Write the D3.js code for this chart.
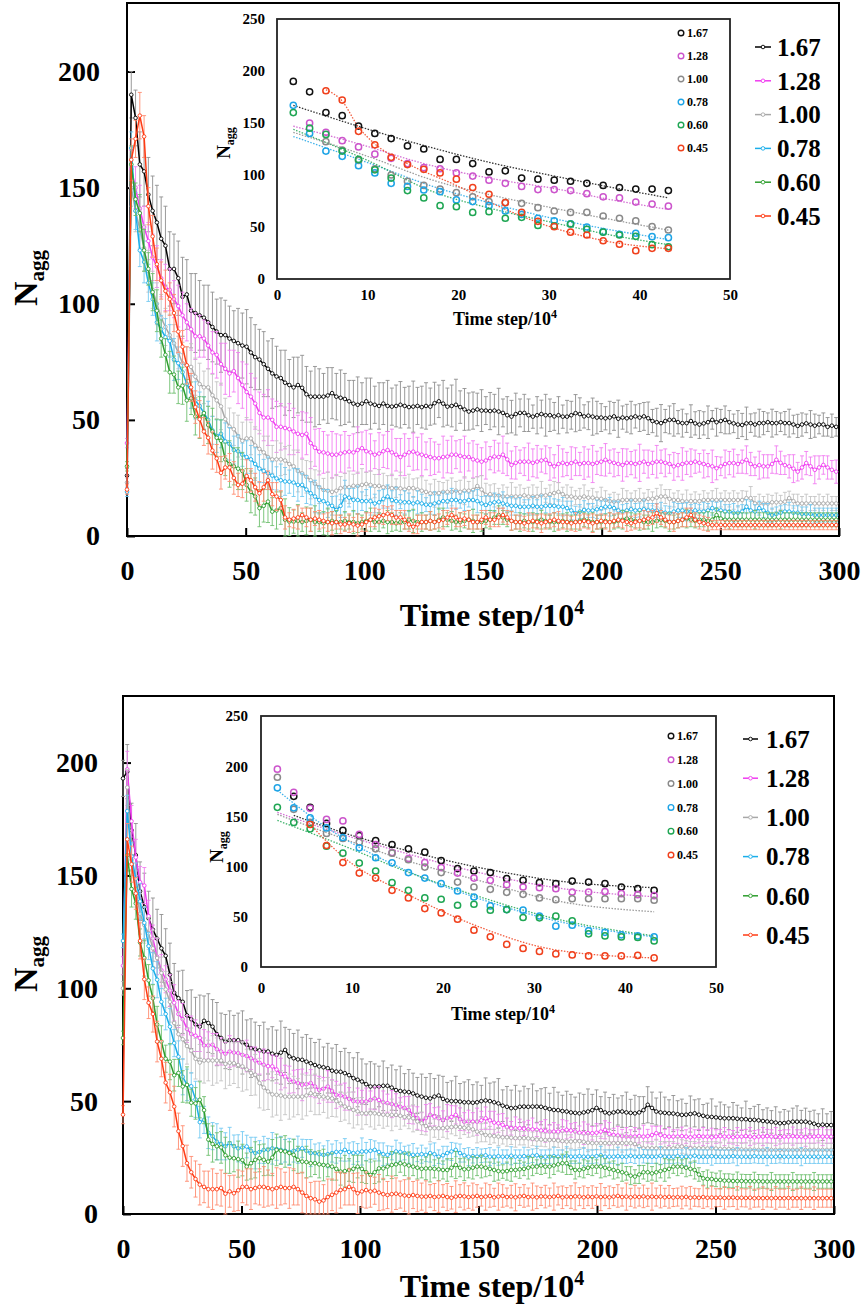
<!DOCTYPE html>
<html>
<head>
<meta charset="utf-8">
<script src="https://cdn.jsdelivr.net/npm/d3@7"></script>
<style>
  body { margin: 0; background: #fff; }
</style>
</head>
<body>
<svg id="chart" width="866" height="1311"></svg>
<script>
// series labels and tick values
const labels = ["1.67", "1.28", "1.00", "0.78", "0.60", "0.45"];
const xTicks = [0, 50, 100, 150, 200, 250, 300];
const yTicks = [0, 50, 100, 150, 200];
const insetXTicks = [0, 10, 20, 30, 40, 50];
const insetYTicks = [0, 50, 100, 150, 200, 250];
const stepX = 1.8;     // sampling interval of the runs (x 10^4 steps)
const yMax = 229.5;

// ---- top panel: N_agg per sample (x = i * 1.8) ----
const tBlack = [26,190,180,160,157,147,140,135,128,125,
115,115,111,103,104,97,96,95,94,92,
90,88,86.5,86.5,85,84,83,82,81.5,79,
77,76,74,72,70,68.7,68,66,65,64,
65,63.8,61,60,60,60,60,60.5,61.5,60,
59.5,59,58,57,56.5,57,58,57,56.5,56,
57,56,55.7,56,56.5,56,55.5,55.7,56,55.5,
56,55.7,57.2,58,57,55.7,56,56.5,55.5,54.5,
53.6,54,54.5,54,54,53.8,54,53.6,53,52,
51.4,52.5,53,53,52,51.4,52,52.5,52,52,
51.5,52,51.4,51.4,52,52.9,52.5,51.5,51.8,51.4,
51,51,50.7,51,51.5,50.5,51,50.7,51,51.5,
51,51.5,50.7,49.5,49,48.6,49.5,50,50,49,
48.6,48.6,49.5,48.5,48,48.5,49,50,49,49.5,
50,49,48.5,48,47.8,48.5,48.6,48,48.6,48.6,
49,48.6,48.6,49,48.6,48.6,48,47.4,48,48.5,
48,47.5,48,48,47,47.5,47];
const tBlackErr = [3,10,12,14,15,16,15,16,18,17,
16,15,16,17,15,16,17,15,14,16,
15,14,16,15,14,13,15,14,16,15,
14,13,14,12,15,13,12,14,11,13,
12,14,12,11,13,12,10,12,11,10,
12,11,9,10,12,9,10,11,8,10,
9,11,8,9,10,8,9,11,8,9,
10,8,9,7,10,8,9,11,7,9,
8,8,7,9,6,8,7,10,6,8,
7,9,6,8,7,5,8,6,9,7,
6,8,5,7,6,8,7,5,6,8,
7,6,5,7,6,8,5,6,7,5,
6,6,7,5,6,8,5,6,7,5,
6,4,7,5,6,5,7,4,6,5,
6,5,4,6,5,7,4,5,6,5,
4,6,5,4,5,6,4,5,5,4,
6,5,4,5,4,5,4];
const tMagenta = [40,158,150,141,133,127,120,116,111,107,
106,102,99,95,92,89,86,86,85,82,
79,78,74,72,70,71,68,65,62,60,
57,53,51,51,50,47,47,46.5,46,45,
44,43.5,44,40,38,36.3,36,35.5,35,35,
35.5,36,36.3,36,37,37.8,36.5,36,35,35.5,
36.5,37,36,35,34,35,36,36.3,35.5,35,
34.5,34,33.5,33.5,34,34.2,35,35,34.5,34,
34,33,32.5,32,32.5,33.5,34.2,34,35,33,
30.6,31.5,32,32,32,31.5,32,32.5,32.8,31,
30,31,31.5,31,31.4,32,31,31.4,31.4,31,
31.5,32,32.8,32,31.5,31,30.6,31.5,31.4,31,
31.5,32,31,31.5,32,32,31.5,31,30,30.5,
31,31.5,31.5,32,31.5,31,30.5,30,29.2,30,
31,31.4,31.4,31,32,32.8,31,30,30.5,30,
30,31,32.8,31.5,30.5,30,29,27.7,29.5,31.4,
30,28.5,29.5,30.6,29.5,28.5,27.7];
const tMagentaErr = [2,8,9,10,9,8,10,9,8,10,
9,8,9,10,8,9,10,9,8,10,
9,10,9,11,10,9,11,10,12,10,
11,9,10,12,9,11,10,9,11,10,
8,10,9,11,8,10,9,8,10,9,
8,9,7,8,10,7,9,8,6,9,
7,8,10,7,8,9,6,8,7,9,
6,8,7,6,9,7,8,6,7,9,
6,8,7,6,8,5,7,6,8,7,
6,7,5,6,8,6,7,5,6,7,
5,8,6,5,7,6,5,7,6,8,
5,6,7,5,6,5,7,6,5,6,
8,5,6,5,7,5,6,4,6,5,
7,5,6,5,4,6,5,7,5,4,
6,5,6,4,5,6,5,4,6,5,
5,4,6,5,4,5,6,4,5,5,
4,6,5,4,5,4,5];
const tGray = [23,150,140,132,124,114,106,100,94,90,
86.5,83,79,74.4,73.4,72.8,68.6,65.4,64,64,
60.6,58.4,55.8,50.3,47.1,46,43,41,42,42,
39,37.5,36,34,33,33,33,32.5,31,30,
28,27,25.5,24,22.5,21,19.8,19.5,19,19.5,
20.6,21,21,21.6,21.5,22,22.4,22,21.5,21.6,
21,21,20.6,20.6,20.5,20,20.6,20.6,20,19.5,
19,18.4,18.4,18.5,19,19,19,19.5,19,19.5,
19.5,19.8,21.5,20,17.7,18,17.5,17.5,17,17,
17,17,17,17.5,17,17,17,17.5,17.5,18,
18.5,19,18,17,17,16.5,16.5,17,16.5,16.5,
16,16,15.5,15,14.8,15,15.5,15.5,15.5,15.5,
15.5,15.5,16,16,16.5,17,17,16,15.5,15.5,
15,14.8,15,15,15,15.5,15.5,15.5,15.5,15.5,
15.5,15.5,15.5,15.5,15.5,16.3,16.3,14,14,14,
14,14.5,14.5,14.5,14.8,16.3,15,14,14,14,
14,14,14,14,14,14,14];
const tGrayErr = [2,8,9,8,10,9,8,9,10,8,
9,8,7,9,8,10,8,9,7,8,
9,8,10,9,8,7,9,8,9,7,
8,8,7,9,6,8,7,6,8,7,
9,6,7,8,6,7,5,8,6,7,
5,6,7,5,6,7,5,6,5,7,
6,5,6,4,7,5,6,4,5,6,
5,4,6,5,4,5,6,4,5,6,
4,5,4,6,5,4,5,3,5,4,
6,4,5,3,4,5,4,6,3,4,
5,4,3,5,4,3,4,5,3,4,
3,5,4,3,4,3,5,4,3,4,
5,3,4,3,4,5,3,4,3,4,
3,5,3,4,3,4,3,4,5,3,
4,3,4,3,4,3,5,3,4,3,
4,3,4,3,4,3,3,4,3,4,
3,3,4,3,4,3,3];
const tCyan = [19,167,140,123,118,109,102,92,89,85.6,
84,76,74.4,70.5,65.5,62,58.4,56,53,50,
45.5,43,44,40.7,39.7,37,36.5,35,34,33,
31,29,28,27,26,24.8,24,23.5,23.4,23,
22,22,20,18.4,17,15.5,15,14,13,11.2,
13,17,16.5,15.5,15.5,15,15,15,14,14.5,
16,17,15.5,15,14.8,14.5,14.5,14,14.5,14,
13.5,13.4,14,14.5,15,15,15.5,15.5,15,15,
15.5,15.5,15,14,13.4,14,14.5,14.8,14,13.5,
13,13,12.6,12.6,12.6,13,12.6,12.6,13,13,
13,12.6,12.6,12,11,9.8,10.5,11.2,11,11,
11.5,12,12.6,12.6,12,11,10.5,11,11.5,11,
11.2,11.5,11,11,11,10.5,10,9.8,10.5,11,
11,10.5,10.5,11,10.5,10.5,11,12,11.5,11,
10.5,10.5,10,10,10.5,12.6,11,10.5,12,11,
10,9,9.5,10,10.5,10.5,10,10,9.5,9.5,
9.5,9,9,9,9,9,9];
const tCyanErr = [2,7,8,7,9,8,7,8,6,8,
7,9,7,8,6,7,8,6,7,8,
6,7,6,8,7,6,7,5,7,6,
7,6,5,7,6,5,7,6,5,6,
7,5,6,5,7,6,5,6,4,6,
5,7,4,5,6,4,5,6,4,5,
4,5,4,6,3,5,4,3,5,4,
3,4,5,3,4,3,5,4,3,4,
3,4,5,3,4,3,4,3,5,3,
4,3,4,3,3,4,3,5,3,4,
3,3,4,3,4,3,3,4,3,3,
4,3,3,4,3,4,3,3,4,3,
3,4,3,3,3,4,3,3,4,3,
3,4,3,3,3,4,3,3,3,4,
3,3,4,3,3,3,4,3,3,3,
4,3,3,3,3,4,3,3,3,3,
4,3,3,3,3,3,3];
const tGreen = [30,160,145,139,123,115,105,97,85,78,
70.5,69.5,64,64.7,58.4,59.3,51.5,51,52.9,47.8,
45,42.3,41,33,31,30,29,28,22,19,
17,12,13,14.8,10.5,11,12,7,6.2,6.2,
6.5,6,6.5,7,6,6,5.5,6,6.5,6,
6,6.5,6,6,5.5,6,6.5,7,6,6,
6.5,6,6,5.5,6,6,7,6.5,6,6,
6,6.5,6,7,8,7,6.5,6,6,6.5,
7,6.5,6,6,6.5,7,8,9,8,7,
6.5,6,6,6.5,6,6,6.5,7,6.5,6,
6,6,6.5,6,6,6,6.5,7,6.5,6,
6,6,6.5,6,6,6.5,7,7.5,7,6.5,
6.5,6,6,6,6.5,7,6.5,6,6,6.5,
7,7.5,7,6.5,7,7,6.5,7,9,7.5,
7,7,7,7,7,7,7,7,7,7,
7,7,7,7,7,7,7,7,7,7,
7,7,7,7,7,7,7];
const tGreenErr = [2,8,7,8,9,7,8,9,8,7,
9,8,7,8,9,7,8,9,7,8,
10,8,9,7,10,8,9,8,7,9,
8,8,7,9,6,8,7,9,6,5,
7,4,6,5,7,4,5,6,4,5,
3,4,3,5,4,3,4,5,3,4,
3,5,4,3,4,3,4,5,3,4,
3,4,3,5,4,3,4,3,4,3,
4,5,3,4,3,4,3,4,3,3,
4,3,4,3,3,4,3,4,3,3,
4,3,3,4,3,3,4,3,3,4,
3,3,3,4,3,3,4,3,3,3,
4,3,3,4,3,3,3,4,3,3,
3,4,3,3,3,3,4,3,3,3,
3,4,3,3,3,3,3,4,3,3,
3,3,3,4,3,3,3,3,3,3,
3,3,3,3,3,3,3];
const tRed = [20,162,171,181,172,142,129,117,110,105.5,
102,96,88,81.5,73.5,64,55.5,50.3,45,42.3,
36.8,33.4,27.2,29.5,29.5,25,22,22.5,25.8,24,
21,18.4,21,24,18,17,15.5,8,7,7.5,
8,9,8,7,7.5,7,6.5,6,5.5,6,
5,5,5.5,5,4.5,5,6,7,8,8.5,
9,9.6,9,8,8,7,5,4,5,6,
6,6.5,6,6.5,7,8,9,8,7,7.5,
7,6,6,7,8,7,7,8,9,8,
6.5,6,6,5.5,6,6.5,6,5.5,6,6.5,
7,6.5,6,6,5.5,6,6,6.5,6,5.5,
6,6.5,6,6,6.5,7,6.5,6,5.5,6,
6.5,7,7.5,8,9.8,8,7,6,6,6.5,
7,8,9,7,6,5.5,5,4.7,4.7,4.7,
4.7,4.7,4.7,4.7,4.7,4.7,4.7,4.7,4.7,4.7,
4.7,4.7,4.7,4.7,4.7,4.7,4.7,4.7,4.7,4.7,
4.7,4.7,4.7,4.7,4.7,4.7,4.7];
const tRedErr = [2,9,8,10,9,8,9,7,8,9,
7,8,9,7,8,6,7,8,6,7,
8,6,7,5,6,7,5,6,7,5,
6,5,6,4,5,6,4,5,3,4,
5,3,4,5,3,4,3,4,5,3,
4,3,4,3,5,3,4,3,4,3,
4,3,4,3,3,4,3,3,4,3,
3,4,3,3,4,3,3,4,3,3,
4,3,3,4,3,3,3,4,3,3,
4,3,3,3,4,3,3,4,3,3,
3,4,3,3,3,4,3,3,3,4,
3,3,3,4,3,3,3,4,3,3,
3,4,3,3,4,3,3,3,4,3,
3,4,3,3,3,3,3,2,2,2,
2,2,2,2,2,2,2,2,2,2,
2,2,2,2,2,2,2,2,2,2,
2,2,2,2,2,2,2];
// first sample shown in the top inset, per series
const topInsetStart = [1, 2, 3, 1, 1, 3];
// dotted fit curves of the top inset: [time, N_agg]
const tFitBlack = [[1.8,167],[10.8,142],[17.2,126],[24,111],[30.6,99],[37,88],[43.2,78]];
const tFitMagenta = [[1.8,147],[9,130],[16.2,111],[23.4,97],[30.6,87],[37,76],[43.2,67]];
const tFitGray = [[1.8,141],[10,118],[17.2,95],[24,80],[30.6,68],[37,57],[43.2,47]];
const tFitCyan = [[1.8,137],[10,112],[17.2,89],[24,72],[30.6,58],[37,47],[43.2,38]];
const tFitGreen = [[1.8,144],[10,114],[17.2,84],[24,67],[30.6,54],[37,42],[43.2,33]];
const tFitRed = [[5.4,182],[7.2,171],[9,146],[10.8,130],[14.4,111],[19.8,90],[25.2,67],[30.6,49],[36,37],[43.2,29]];

// ---- bottom panel ----
const bBlack = [193,196,170,159,143,136,131,126,122,117.7,
114.4,106,98,95.6,94,88,86.3,84,83,85.6,
84.6,83,79.7,78,76.4,77,77,77,76,75,
73.5,73,72.5,72,72,71,70.5,71.5,72.7,69.8,
69,68.5,68.3,67.5,66.8,66,65.4,65,64.6,63.5,
63.1,63,62.4,61.5,60.2,59.5,58.7,57.5,56.5,56.5,
56.5,56.8,56.8,56,54.9,54.5,54.2,54,53.4,52.5,
52,51.5,51.2,52,52.5,51,50.3,50,50,49.8,
49.5,49.5,49.3,49.5,50,50.3,50,49.5,49,48,
47.5,46.9,47,47.5,47.6,47.5,47.6,47.6,47.5,47,
46.5,46.1,46,45.6,45.4,45,44.8,44.6,45,45.4,
46,47,46,45,44.6,45,45.4,45.4,45,44.8,
44.6,45,46,48.4,47,45.4,45,44.8,44.6,44.5,
44.2,43.9,44,44.3,44.6,44,43.5,43.1,43,42.8,
42.6,42.4,42.4,42.4,42.2,42,42,41.7,41.7,41.5,
41.2,41,40.8,40.5,40.2,40.3,40.6,40.9,40.9,40.9,
40.9,40.5,40,39.4,39.6,39.4,39.4];
const bBlackErr = [8,12,12,14,13,15,12,14,13,15,
12,14,13,12,14,11,13,12,14,11,
13,12,14,11,12,13,11,12,14,11,
13,12,11,13,10,12,11,14,10,12,
11,13,10,12,11,10,12,9,11,10,
12,9,11,10,9,12,10,9,11,10,
9,11,8,10,9,11,8,10,9,8,
10,9,11,8,9,10,8,9,11,8,
9,10,8,9,7,10,8,9,11,7,
9,8,10,7,9,8,10,7,8,9,
7,10,8,7,9,8,7,9,8,10,
7,8,6,9,7,8,6,7,9,6,
8,7,6,8,7,6,9,7,6,8,
6,7,5,8,6,7,5,6,8,5,
7,6,5,7,6,5,8,5,6,7,
5,6,5,7,5,6,5,6,7,5,
6,5,6,5,7,5,6];
const bMagenta = [110,197,174,158,147,145.5,132,122,114,108,
104,99,93.6,88.6,86.3,82,79.7,79,78,74.7,
74.7,75,73,72,71,72,71.5,71.3,70.5,70,
69,68,67,66.1,65.5,65.4,64,62,60.9,59.5,
58.7,58,57.2,57.5,58,56.5,55,55.5,56.5,54.5,
52.8,52.5,52,51,50,49.8,49.8,49.8,50.5,51.2,
50.5,49.5,49.1,48.7,48.3,47.5,47,46.1,43.9,42.5,
40.9,42.5,43.9,43.1,42.4,41.7,42.5,43,43.9,42,
40.9,41,40.9,40.9,41.5,42.4,41.5,40.5,40.2,39.5,
38.5,38,38,38,37.8,37.5,37.5,37.3,37,36.8,
36.5,36.5,36.5,36.8,37.3,37,36.5,36,35.8,35.8,
35.8,36,36.5,37.3,35.5,35,34.8,34.5,34.3,34.3,
34.3,34.5,34.3,34.5,35,35.8,35,34.5,34.3,34.3,
34.3,34.5,34.3,34,34.3,34.5,34.3,34.3,34,34.3,
34.5,34.3,34.3,34,34.3,34.3,34.5,34.3,34,34.3,
34.3,34.5,34.3,34.3,34,34.3,34.3,34.5,34.3,34.3,
34,34.3,34.3,34.5,34.3,34.3,34.3];
const bMagentaErr = [4,8,7,8,7,8,7,6,8,7,
6,7,8,6,7,6,8,7,6,7,
6,5,7,6,5,7,6,5,6,7,
5,6,5,7,6,5,6,7,5,6,
5,6,7,5,6,5,6,5,7,5,
6,5,6,5,4,6,5,6,4,5,
6,5,4,6,5,4,5,6,4,5,
4,6,5,4,5,4,6,5,4,5,
4,5,4,6,4,5,4,5,4,5,
4,3,5,4,3,4,5,3,4,5,
3,4,3,5,4,3,4,3,5,4,
3,4,3,4,5,3,4,3,4,3,
4,3,5,3,4,3,4,3,4,3,
3,4,3,4,3,3,4,3,4,3,
3,4,3,3,4,3,3,4,3,3,
4,3,3,4,3,3,3,4,3,3,
4,3,3,3,4,3,3];
const bGray = [100,189,157,144,133,128,124.3,117.7,113.4,106.8,
99.5,94,84.6,79.7,77.4,74.4,72.4,68.8,67.1,68,
68,68,68,68,66.5,67,66.8,66,65.4,64,
62.5,61.7,58,56,54.3,53,52.8,52.5,52,52,
52,52,52,52.5,53.5,53,52,52,51.5,51.2,
50,49,47.6,47,46.1,45.5,44.6,44.6,44.6,44.6,
44.3,44,43.9,43.9,43.9,43.5,43,42.8,42.4,41,
40.2,39,38,38,38,38,38.3,38.5,38.7,38.5,
38.2,38,37.5,36.5,36,35,34.8,34.5,34.3,34,
34,33.8,33.6,33.6,33.6,33.5,33.3,33,33,32.8,
32.8,32.8,32.5,32.3,32.1,32.1,32.3,32.3,32,31.6,
31.4,31.4,31.4,31.4,31.4,31.4,31.4,31.4,31.4,31.4,
31,30,29.1,29.1,29.1,29.1,29.1,29.1,29.1,29.1,
29.9,29.9,29.5,29.1,29.1,29.1,29.1,29,29,29,
28.8,28.8,28.8,28.6,28.6,28.6,28.5,28.5,28.5,28.4,
28.4,28.4,28.4,28.4,28.4,28.4,28.4,28.4,28.4,28.4,
28.4,28.4,28.4,28.4,28.4,28.4,28.4];
const bGrayErr = [3,8,7,8,9,8,7,8,9,7,
8,9,8,10,9,8,10,9,8,10,
9,11,10,9,11,10,9,10,11,9,
10,9,11,10,8,10,9,11,8,10,
9,8,10,9,8,9,8,7,9,8,
7,8,6,7,8,6,7,5,6,7,
5,6,5,7,5,6,4,5,6,4,
5,4,6,4,5,4,5,3,4,5,
3,4,3,5,4,3,4,3,4,3,
4,3,4,3,3,4,3,4,3,3,
4,3,3,4,3,3,4,3,3,4,
3,3,3,4,3,3,3,4,3,3,
3,4,3,3,3,4,3,3,3,3,
4,3,3,3,3,4,3,3,3,3,
3,4,3,3,3,3,3,4,3,3,
3,3,3,3,4,3,3,3,3,3,
3,3,3,4,3,3,3];
const bCyan = [121,178.5,158.5,148.5,138.5,129,118.7,108.8,103.8,94,
88.6,83,75.7,69.7,60.8,57.2,56.6,50.8,40.7,41.7,
36,34.5,32,31,30,31.4,30,29.1,29.5,29.9,
28,27,27.5,28.4,28.5,29.1,28.8,28.4,28,27.5,
28,28.5,29.1,28,27,27,26.5,26.2,26.5,27,
27.5,27.5,28.4,27.5,27,27.2,27.7,27.7,28,28.4,
27.5,26.5,26.2,27,27.7,27.5,27,26.5,26.2,26.2,
26.5,26.2,27,26.5,25.4,26,27,27.7,28.4,27,
26,25.4,25.6,25.4,25.8,26,25.4,25.4,25.6,25.4,
25.4,25.8,25.4,25.4,25.6,25.4,25.8,26,25.4,25.4,
25.4,25.6,25.4,25.4,25.8,25.4,25.4,25.6,25.4,25.4,
25.4,25.6,26,25.4,25.4,25.4,25.6,25.4,25.4,25.8,
25.4,25.4,25.6,25.4,25.4,25.4,25.8,25.4,25.4,25.4,
25.6,25.4,25.4,25.4,25.8,25.4,25.4,25.4,25.6,25.4,
25.4,25.4,25.4,25.6,25.4,25.4,25.4,25.4,25.6,25.4,
25.4,25.4,25.4,25.4,25.6,25.4,25.4,25.4,25.4,25.4,
25.4,25.4,25.4,25.4,25.4,25.4,25.4];
const bCyanErr = [3,7,6,7,8,7,6,7,8,6,
7,8,6,7,8,7,6,8,7,6,
7,6,8,7,6,7,5,6,7,5,
6,7,5,6,5,7,5,6,5,6,
5,6,4,5,6,4,5,4,6,4,
5,4,5,4,5,4,6,4,5,4,
4,5,4,3,5,4,3,4,5,3,
4,3,4,5,3,4,3,4,3,4,
3,4,3,4,3,3,4,3,4,3,
3,4,3,3,4,3,3,4,3,3,
3,4,3,3,4,3,3,3,4,3,
3,3,4,3,3,3,4,3,3,3,
3,4,3,3,3,3,4,3,3,3,
3,3,4,3,3,3,3,3,4,3,
3,3,3,3,4,3,3,3,3,3,
3,4,3,3,3,3,3,3,3,4,
3,3,3,3,3,3,3];
const bGreen = [78,159,144,137.6,120.3,113.4,103.5,95.6,84,76.4,
68.8,67.5,61.5,62.5,56.5,57.2,49.3,49,50.6,46,
33,31,30,29.5,26,25,24.7,24.3,23.9,21,
22.5,24,24.7,24,23.2,25,28.4,28,27.7,27,
26.2,24,23.2,23,22.5,22.5,22,21.7,21.5,21,
20,18.8,19,19.5,20,21,20,18.5,17.3,18.5,
20.2,20.2,21,21.7,22,22.5,22,21.5,21,20.5,
20,20.2,20.2,20,19.8,19.5,19.5,20.5,21.7,20.5,
19.8,20,20.5,21,21,20.5,20,19.5,19,18.8,
19,19.5,19.5,19.8,20,20.5,21,21,21.5,21,
21,21.5,22,22.5,22.5,20.5,19.5,19.5,20,20.5,
21,21,21,20.5,20,19.5,19,18.5,18,17,
16.6,17.5,18.5,18.5,18,18.5,19,19.5,20,21,
21,21,20.5,20,19.5,17.5,15.8,15.5,15.5,15.1,
15.1,14.8,14.8,14.6,14.6,14.6,14.5,14.5,14.5,14.5,
14.4,14.4,14.4,14.4,14.4,14.4,14.4,14.4,14.4,14.4,
14.4,14.4,14.4,14.4,14.4,14.4,14.4];
const bGreenErr = [3,7,8,7,6,8,7,6,8,7,
6,8,7,6,7,8,6,7,8,6,
7,8,6,7,8,7,6,8,7,6,
7,8,6,7,6,8,7,6,7,5,
7,6,5,7,6,5,6,7,5,6,
5,6,7,5,6,5,6,5,7,5,
6,5,4,6,5,4,5,6,4,5,
4,5,6,4,5,4,5,4,6,4,
5,4,5,4,5,4,3,5,4,3,
4,5,3,4,3,5,4,3,4,3,
5,4,3,4,5,3,4,3,4,3,
4,3,5,4,3,4,3,4,3,4,
3,4,3,4,3,4,3,5,4,3,
4,3,4,3,4,3,3,4,3,3,
4,3,3,3,4,3,3,3,4,3,
3,3,4,3,3,3,3,4,3,3,
3,3,4,3,3,3,3];
const bRed = [44,166,155,142,121,104,93.6,88.6,76.4,68.8,
58.2,53.9,47.6,36.7,30.1,22.5,18.5,15.5,13,12,
11,11,11,11.5,9,10,9.2,10.5,12,12,
11,11.5,12,12,11.5,11,11.5,12,11.5,11.5,
12,11,9.5,8,7,6.5,5.5,6,7.5,8.5,
9.5,10.6,11,12,11,9.2,10,10.6,10,10.3,
9.5,8.8,8.4,8.8,9,8.6,8.2,8,8.4,8,
7.7,7.7,8,7.5,7.7,8,7.5,7.2,7.7,8,
7.8,7.5,7.7,8,7.5,7.7,8,7.4,7.7,8,
7.5,7.7,7.4,7.8,8,7.5,7.7,7.4,7.8,7.7,
7.5,7.7,8,7.4,7.7,7.5,7.8,7.7,7.4,7.7,
7.5,7.8,7.5,7.7,7.4,7.7,8,7.5,7.7,7.4,
7.7,7.5,7.8,7.4,7.7,7.5,7.7,7.4,7.6,7.3,
7.5,7.3,7.6,7.2,7.4,7.2,7.5,7.2,7.3,7.2,
7.3,7.1,7.2,7.3,7.1,7.2,7.1,7.2,7,7.1,
7,7.1,7,7.1,7,7,7.1,7,7,7,
7,7,7,7,7,7,7];
const bRedErr = [4,7,8,7,8,9,7,8,9,8,
9,8,9,8,9,8,7,8,9,7,
8,9,7,8,9,7,8,9,7,8,
9,7,8,9,8,7,9,8,7,9,
8,7,9,8,7,8,9,7,8,7,
9,8,7,8,7,9,7,8,7,6,
8,7,6,8,7,6,7,8,6,7,
6,7,5,6,7,5,6,5,7,5,
6,5,6,5,4,6,5,4,6,5,
4,5,6,4,5,4,6,5,4,5,
4,6,4,5,4,5,6,4,5,4,
5,4,6,4,5,4,5,4,6,4,
5,4,5,4,6,4,5,4,5,4,
4,5,4,5,4,4,5,4,5,4,
4,5,4,4,5,4,4,5,4,4,
5,4,4,5,4,4,5,4,4,5,
4,4,5,4,4,4,4];
const bottomInsetStart = [2, 1, 1, 1, 1, 3];
const bFitBlack = [[3.6,151],[10,131],[16,116],[24,99],[32.4,86],[43.2,79]];
const bFitMagenta = [[1.8,154],[9,132],[16,113],[24,94],[32.4,79],[43.2,70]];
const bFitGray = [[1.8,152],[9,128],[16,106],[24,86],[32.4,66],[43.2,55]];
const bFitCyan = [[1.8,176],[7.2,139],[16,96],[24,68],[32.4,46],[43.2,30]];
const bFitGreen = [[1.8,146],[9,121],[16,95],[24,70],[32.4,48],[43.2,31]];
const bFitRed = [[5.4,142],[9,110],[16,73],[23.4,42],[32.4,17],[43.2,9]];

// colours
const mainColors = ["#000000", "#f03cf0", "#a8a8a8", "#1aaeea", "#2e9e2e", "#ff3b14"];
const errColors = ["#8e8e8e", "#f27ef2", "#c4c4c4", "#74caf2", "#6fbf6f", "#ff8c70"];
const insetColors = ["#111111", "#cc55cc", "#8a8a8a", "#1ea4e6", "#1fa653", "#f0401c"];
const serif = "'Liberation Serif','Times New Roman',Times,serif";

const svg = d3.select("#chart");
svg.append("rect").attr("width", 866).attr("height", 1311).attr("fill", "#fff");

function styleAxis(a, size) {
  a.attr("font-family", serif).attr("font-size", size).attr("font-weight", "bold");
  a.select(".domain").remove();
  a.selectAll(".tick line").attr("stroke", "#000").attr("stroke-width", 2);
  a.selectAll(".tick text").attr("fill", "#000");
}

function drawPanel(p) {
  const g = svg.append("g");
  const x = d3.scaleLinear().domain([0, 300]).range([p.left, p.right]);
  const y = d3.scaleLinear().domain([0, yMax]).range([p.bottom, p.top]);

  g.append("g").attr("transform", `translate(0,${p.bottom})`)
    .call(d3.axisBottom(x).tickValues(xTicks).tickSize(-8).tickSizeOuter(0).tickPadding(24))
    .call(a => styleAxis(a, 28));
  g.append("g").attr("transform", `translate(${p.left},0)`)
    .call(d3.axisLeft(y).tickValues(yTicks).tickSize(-8).tickSizeOuter(0).tickPadding(p.yPad))
    .call(a => styleAxis(a, 28));

  g.append("rect")
    .attr("x", p.left).attr("y", p.top)
    .attr("width", p.right - p.left).attr("height", p.bottom - p.top)
    .attr("fill", "none").attr("stroke", "#000").attr("stroke-width", 2);

  // main series with error bars
  const line = d3.line().x(d => x(d.t)).y(d => y(d.v));
  p.series.forEach((vals, k) => {
    const pts = vals.map((v, i) => ({ t: i * stepX, v: v, e: p.errors[k][i] || 0 }));
    const sg = g.append("g");
    sg.append("g").selectAll("path").data(pts).join("path")
      .attr("d", d => {
        const cx = x(d.t);
        const y1 = y(Math.min(yMax, d.v + d.e));
        const y2 = y(Math.max(0, d.v - d.e));
        return `M${cx},${y1}V${y2}M${cx - 2},${y1}h4M${cx - 2},${y2}h4`;
      })
      .attr("fill", "none").attr("stroke", errColors[k]).attr("stroke-width", 0.9);
    sg.append("path").datum(pts).attr("d", line)
      .attr("fill", "none").attr("stroke", mainColors[k]).attr("stroke-width", 1.5);
    sg.append("g").selectAll("circle").data(pts).join("circle")
      .attr("cx", d => x(d.t)).attr("cy", d => y(d.v)).attr("r", 1.8)
      .attr("fill", "#fff").attr("stroke", mainColors[k]).attr("stroke-width", 0.9);
  });

  // legend
  labels.forEach((lab, k) => {
    const ly = p.legY0 + k * p.legDy;
    g.append("line").attr("x1", p.legX1).attr("x2", p.legX2).attr("y1", ly).attr("y2", ly)
      .attr("stroke", mainColors[k]).attr("stroke-width", 1.5);
    g.append("circle").attr("cx", (p.legX1 + p.legX2) / 2).attr("cy", ly).attr("r", 1.8)
      .attr("fill", "#fff").attr("stroke", mainColors[k]).attr("stroke-width", 0.9);
    g.append("text").attr("x", p.legTextX).attr("y", ly).attr("dy", "0.35em")
      .attr("font-family", serif).attr("font-weight", "bold").attr("font-size", 25)
      .text(lab);
  });

  // axis titles
  const xt = g.append("text").attr("x", p.xtX).attr("y", p.xtY).attr("text-anchor", "middle")
    .attr("font-family", serif).attr("font-weight", "bold").attr("font-size", 32);
  xt.append("tspan").text("Time step/10");
  xt.append("tspan").attr("font-size", 20).attr("dy", -12).text("4");

  const yt = g.append("text").attr("transform", `translate(${p.ytX},${p.ytY}) rotate(-90)`)
    .attr("text-anchor", "middle").attr("font-family", serif).attr("font-weight", "bold");
  yt.append("tspan").attr("font-size", 34).text("N");
  yt.append("tspan").attr("font-size", 21).attr("dy", 7).text("agg");

  // ---- inset ----
  const xi = d3.scaleLinear().domain([0, 50]).range([p.inL, p.inR]);
  const yi = d3.scaleLinear().domain([0, 250]).range([p.inB, p.inT]);
  g.append("rect")
    .attr("x", p.inL).attr("y", p.inT)
    .attr("width", p.inR - p.inL).attr("height", p.inB - p.inT)
    .attr("fill", "#fff").attr("stroke", "#222").attr("stroke-width", 1.8);
  g.append("g").attr("transform", `translate(0,${p.inB})`)
    .call(d3.axisBottom(xi).tickValues(insetXTicks).tickSize(0).tickPadding(p.inXPad))
    .call(a => styleAxis(a, 15));
  g.append("g").attr("transform", `translate(${p.inL},0)`)
    .call(d3.axisLeft(yi).tickValues(insetYTicks).tickSize(0).tickPadding(p.inYPad))
    .call(a => styleAxis(a, 15));

  const fitLine = d3.line().curve(d3.curveMonotoneX).x(d => xi(d[0])).y(d => yi(d[1]));
  p.fits.forEach((f, k) => {
    g.append("path").datum(f).attr("d", fitLine)
      .attr("fill", "none").attr("stroke", insetColors[k]).attr("stroke-opacity", 0.85)
      .attr("stroke-width", 1.3).attr("stroke-dasharray", "1.5,1.5");
  });
  p.series.forEach((vals, k) => {
    const pts = [];
    for (let i = p.insetStart[k]; i <= 24; i++) pts.push({ t: i * stepX, v: vals[i] });
    g.append("g").selectAll("circle").data(pts).join("circle")
      .attr("cx", d => xi(d.t)).attr("cy", d => yi(d.v)).attr("r", 3.1)
      .attr("fill", "none").attr("stroke", insetColors[k]).attr("stroke-width", 1.5);
  });

  labels.forEach((lab, k) => {
    const ly = p.inLegY0 + k * p.inLegDy;
    g.append("circle").attr("cx", p.inLegX).attr("cy", ly).attr("r", 2.8)
      .attr("fill", "none").attr("stroke", insetColors[k]).attr("stroke-width", 1.4);
    g.append("text").attr("x", p.inLegX + 6).attr("y", ly).attr("dy", "0.35em")
      .attr("font-family", serif).attr("font-weight", "bold").attr("font-size", 12)
      .text(lab);
  });

  const ixt = g.append("text").attr("x", p.inXtX).attr("y", p.inXtY).attr("text-anchor", "middle")
    .attr("font-family", serif).attr("font-weight", "bold").attr("font-size", 18);
  ixt.append("tspan").text("Time step/10");
  ixt.append("tspan").attr("font-size", 12).attr("dy", -7).text("4");

  const iyt = g.append("text").attr("transform", `translate(${p.inYtX},${p.inYtY}) rotate(-90)`)
    .attr("text-anchor", "middle").attr("font-family", serif).attr("font-weight", "bold");
  iyt.append("tspan").attr("font-size", 19).text("N");
  iyt.append("tspan").attr("font-size", 12).attr("dy", 4).text("agg");
}

drawPanel({
  left: 127, right: 839, top: 3, bottom: 536, yPad: 27,
  series: [tBlack, tMagenta, tGray, tCyan, tGreen, tRed],
  errors: [tBlackErr, tMagentaErr, tGrayErr, tCyanErr, tGreenErr, tRedErr],
  fits: [tFitBlack, tFitMagenta, tFitGray, tFitCyan, tFitGreen, tFitRed],
  insetStart: topInsetStart,
  xtX: 492, xtY: 626, ytX: 37, ytY: 278,
  legX1: 755, legX2: 771, legTextX: 777, legY0: 47, legDy: 33.8,
  inL: 277, inR: 730, inT: 19, inB: 279, inYPad: 12, inXPad: 10,
  inXtX: 505, inXtY: 325, inYtX: 230, inYtY: 143,
  inLegX: 681, inLegY0: 33, inLegDy: 23
});

drawPanel({
  left: 123, right: 834, top: 696, bottom: 1214, yPad: 25,
  series: [bBlack, bMagenta, bGray, bCyan, bGreen, bRed],
  errors: [bBlackErr, bMagentaErr, bGrayErr, bCyanErr, bGreenErr, bRedErr],
  fits: [bFitBlack, bFitMagenta, bFitGray, bFitCyan, bFitGreen, bFitRed],
  insetStart: bottomInsetStart,
  xtX: 492, xtY: 1297, ytX: 37, ytY: 964,
  legX1: 743, legX2: 758, legTextX: 766, legY0: 739, legDy: 39.2,
  inL: 261, inR: 716, inT: 716, inB: 967, inYPad: 13, inXPad: 15,
  inXtX: 503, inXtY: 1020, inYtX: 223, inYtY: 847,
  inLegX: 671, inLegY0: 736, inLegDy: 23.8
});
</script>
</body>
</html>
